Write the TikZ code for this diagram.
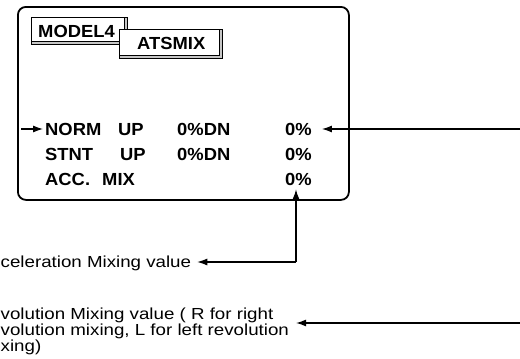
\documentclass[tikz,border=0pt]{standalone}
\usepackage{fontspec}
\setmainfont{Liberation Sans}
\newfontfamily\scrfont[FakeStretch=1.05]{Liberation Sans}
\newfontfamily\labfont[FakeStretch=1.17]{Liberation Sans}
\usetikzlibrary{arrows.meta}
\begin{document}
\begin{tikzpicture}[x=1pt,y=-1pt,
  scr/.style={font=\scrfont\bfseries\fontsize{17.5}{19}\selectfont, inner sep=0pt, anchor=base west},
  lab/.style={font=\labfont\fontsize{16}{16}\selectfont, inner sep=0pt, anchor=base west},
  arr/.style={line width=1.1pt, -{Latex[length=10pt,width=7pt]}},
  tab/.style={draw, line width=0.8pt, fill=white, inner sep=0pt, anchor=north west},
  shade/.style={fill=gray!45},
  edge3d/.style={line width=0.6pt}]
\useasboundingbox (0,0) rectangle (520,359);
% screen
\node[draw, line width=1.8pt, rounded corners=8pt, inner sep=0pt, anchor=north west,
      minimum width=331pt, minimum height=193pt] (screen) at (17,6) {};
% MODEL4 tab
\node[tab, minimum width=96pt, minimum height=27pt] (tabA) at (31,17) {};
\fill[shade] (31,41) rectangle (127,44);
\fill[shade] (124,17) rectangle (127,44);
\draw[line width=0.8pt] (tabA.north west) rectangle (tabA.south east);
\draw[edge3d] (tabA.west |- 0,41) -- (124,41) -- (124,17);
\node[scr] (model) at (38,37) {MODEL4};
% ATSMIX tab
\node[tab, minimum width=103pt, minimum height=29pt] (tabB) at (119,29) {};
\fill[shade] (119,55) rectangle (222,58);
\fill[shade] (219,29) rectangle (222,58);
\draw[line width=0.8pt] (tabB.north west) rectangle (tabB.south east);
\draw[edge3d] (tabB.west |- 0,55) -- (219,55) -- (219,29);
\node[scr] (atsmix) at (137,49) {ATSMIX};
% rows
\node[scr] (norm)  at (45,135) {NORM};
\node[scr] (nup)   at (118,135) {UP};
\node[scr] (ndn)   at (177,135) {0\%DN};
\node[scr] (nval)  at (285,135) {0\%};
\node[scr] (stnt)  at (45,160) {STNT};
\node[scr] (sup)   at (120,160) {UP};
\node[scr] (sdn)   at (177,160) {0\%DN};
\node[scr] (sval)  at (285,160) {0\%};
\node[scr] (acc)   at (45,185) {ACC.};
\node[scr] (mix)   at (102,185) {MIX};
\node[scr] (aval)  at (285,185) {0\%};
% labels
\node[lab] (acclab) at (0.5,267) {celeration Mixing value};
\node[lab] (rev1) at (0.5,319) {volution Mixing value ( R for right};
\node[lab] (rev2) at (0.5,335) {volution mixing, L for left revolution};
\node[lab] (rev3) at (0.5,351) {xing)};
% connectors
\coordinate (cursor) at (21,129);
\draw[arr] (cursor) -- ([xshift=-2pt]norm.west |- cursor);
\coordinate (rightA) at (520,129);
\draw[arr] (rightA) -- ([xshift=10pt]nval.east |- rightA);
\coordinate (corner) at (296,262);
\coordinate (acctip) at ([yshift=-4pt]aval.south);
\draw[arr] (corner) -- (corner |- acctip);
\coordinate (acclabtip) at ([xshift=6pt]acclab.east);
\draw[arr] (corner) -- (acclabtip |- corner);
\coordinate (rightB) at (520,323);
\coordinate (revtip) at ([xshift=7pt]rev2.east);
\draw[arr] (rightB) -- (revtip |- rightB);
\end{tikzpicture}
\end{document}
